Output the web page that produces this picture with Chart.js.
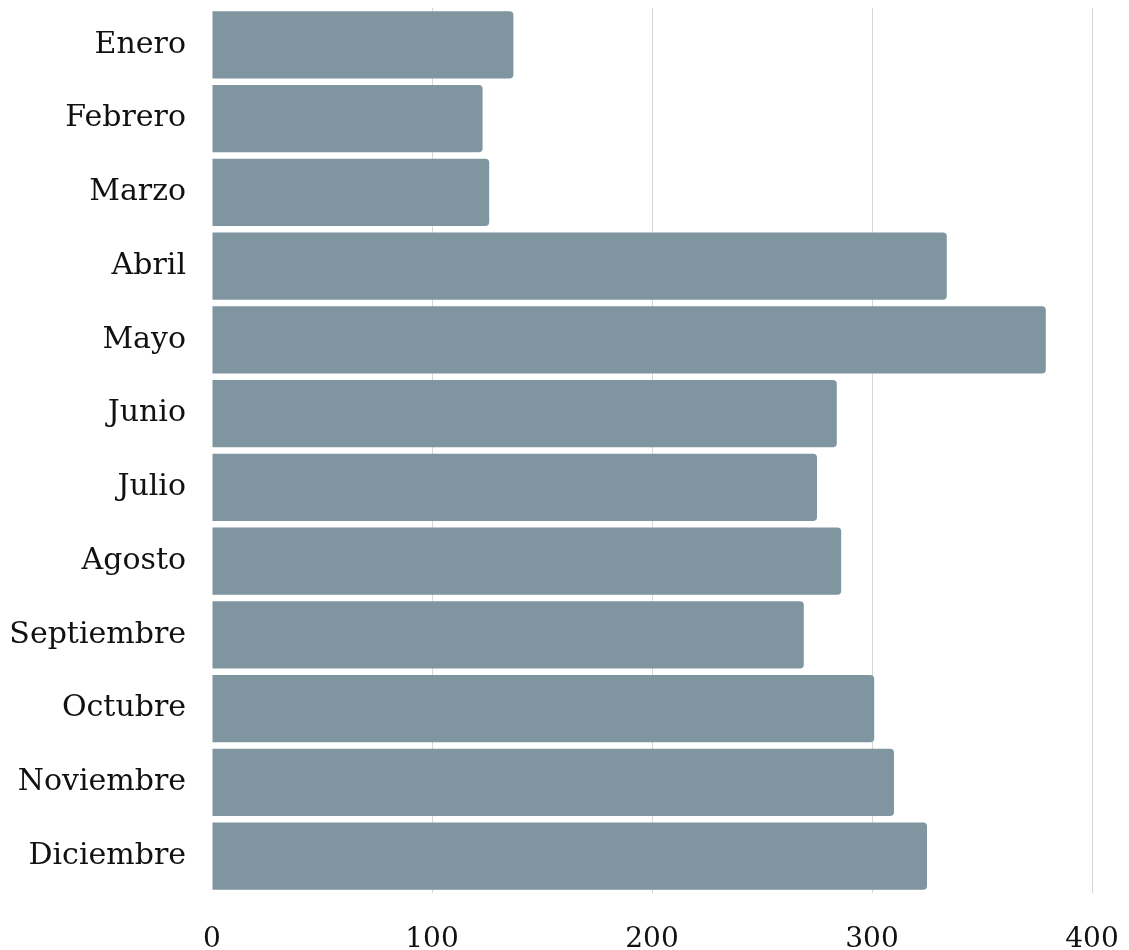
<!DOCTYPE html>
<html>
<head>
<meta charset="utf-8">
<script src="https://cdn.jsdelivr.net/npm/chart.js@4/dist/chart.umd.min.js"></script>
<style>
html,body{margin:0;padding:0;background:#fff;}
#wrap{width:1129px;height:950px;}
</style>
</head>
<body>
<div id="wrap"><canvas id="c"></canvas></div>
<script>
const categories = ["Enero","Febrero","Marzo","Abril","Mayo","Junio","Julio","Agosto","Septiembre","Octubre","Noviembre","Diciembre"];
const values = [137, 123, 126, 334, 379, 284, 275, 286, 269, 301, 310, 325];
const xTicks = [0, 100, 200, 300, 400];

new Chart(document.getElementById('c'), {
  type: 'bar',
  data: {
    labels: categories,
    datasets: [{
      data: values,
      backgroundColor: '#7f96a0',
      borderRadius: 4,
      borderSkipped: 'start',
      categoryPercentage: 1,
      barPercentage: 0.91
    }]
  },
  options: {
    indexAxis: 'y',
    responsive: true,
    maintainAspectRatio: false,
    animation: false,
    layout: { padding: { top: 8, right: 37, left: 0, bottom: 0 } },
    plugins: { legend: { display: false }, tooltip: { enabled: false } },
    scales: {
      x: {
        min: 0, max: 400,
        afterBuildTicks: s => { s.ticks = xTicks.map(v => ({ value: v })); },
        afterFit: s => { s.height = 57; s.paddingLeft = 0; s.paddingRight = 0; },
        border: { display: false },
        grid: {
          drawTicks: false,
          color: ctx => (ctx.tick && ctx.tick.value === 0) ? 'rgba(0,0,0,0)' : '#d6d6d6',
          lineWidth: 1
        },
        ticks: {
          color: '#111',
          padding: 30,
          font: { family: 'DejaVu Serif', size: 28 }
        }
      },
      y: {
        afterFit: s => { s.width = 212; s.paddingTop = 0; s.paddingBottom = 0; },
        border: { display: false },
        grid: { display: false, drawTicks: false },
        ticks: {
          color: '#111',
          padding: 26,
          font: { family: 'DejaVu Serif', size: 30 }
        }
      }
    }
  }
});
</script>
</body>
</html>
